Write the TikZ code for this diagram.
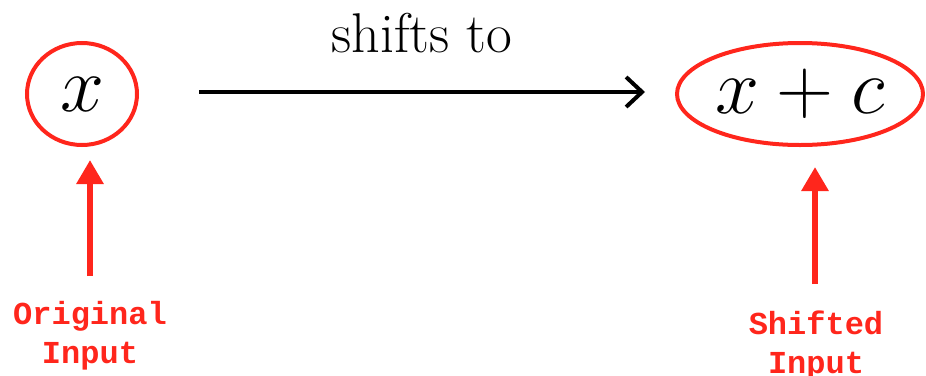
\RequirePackage{fix-cm}
\documentclass[tikz,border=0pt]{standalone}
\usepackage{amsmath}
\usepackage{fontspec}
\newfontfamily\labfont{Liberation Mono}[BoldFont={Liberation Mono Bold}]
\usetikzlibrary{shapes.geometric,arrows.meta,calc}
\definecolor{mred}{RGB}{255,38,28}
\tikzset{
  ring/.style={draw=mred, line width=4pt, ellipse, inner sep=0pt},
  mathtxt/.style={font=\fontsize{79}{90}\selectfont},
  redarrow/.style={draw=mred, line width=6pt, -{Triangle[length=24pt,width=26pt]}},
  mainarrow/.style={draw=black, line width=4pt, -{Straight Barb[length=16pt,width=30pt,line width=4pt]}},
  lab/.style={text=mred, font=\labfont\bfseries\fontsize{32}{39}\selectfont, align=center, inner sep=0pt, anchor=north}
}
\begin{document}
\begin{tikzpicture}[x=1pt,y=-1pt]
\useasboundingbox (0,0) rectangle (926,375);
\node[ring, mathtxt, minimum width=110pt, minimum height=102pt] (xn) at (82,94) {\makebox[0pt]{$x$}};
\node[ring, mathtxt, minimum width=246pt, minimum height=102pt] (xc) at (800,94) {\makebox[0pt]{$x+c$}};
\node[font=\fontsize{56}{60}\selectfont, anchor=base, inner sep=0pt] (st) at (422,52) {shifts to};
\draw[mainarrow, shorten <=60pt, shorten >=30pt] (xn.east |- 0,92) -- (xc.west |- 0,92);
\coordinate (la) at (90,276);
\coordinate (ra) at (815,284);
\draw[redarrow, shorten >=13pt] (la) -- (xn.south -| la);
\draw[redarrow, shorten >=20pt] (ra) -- (xc.south -| ra);
\node[lab] (ol) at (90,301) {Original\\Input};
\node[lab] (sl) at (816,311) {Shifted\\Input};
\end{tikzpicture}
\end{document}
